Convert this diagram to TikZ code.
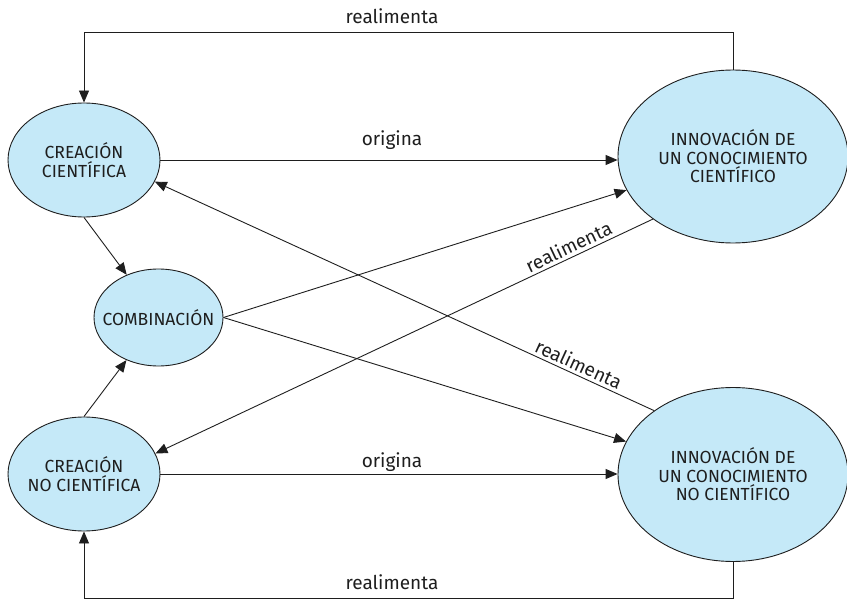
\documentclass[tikz,border=0pt]{standalone}
\usepackage{fontspec}
\setmainfont{Fira Sans}
\usetikzlibrary{arrows.meta,shapes.geometric}
\definecolor{fillblue}{RGB}{197,233,248}
\definecolor{ink}{RGB}{30,30,30}
\tikzset{
  bubble/.style={ellipse, draw=ink, line width=0.9pt, fill=fillblue, inner ysep=0pt, inner xsep=-12pt,
    align=center, text=ink, font=\fontsize{17.5}{18.5}\selectfont},
  conn/.style={draw=ink, line width=0.9pt},
  arr/.style={conn, -{Triangle[length=12pt,width=10pt]}},
  lbl/.style={text=ink, font=\fontsize{19}{21}\selectfont, inner sep=1pt},
}
\begin{document}
\begin{tikzpicture}[x=1pt,y=-1pt]
\useasboundingbox (0,0) rectangle (847,599);
\node[bubble, minimum width=152pt, minimum height=114pt] (cc) at (84,160) {CREACIÓN\\CIENTÍFICA};
\node[bubble, minimum width=129pt, minimum height=97pt] (comb) at (158.5,317.5) {COMBINACIÓN};
\node[bubble, minimum width=152pt, minimum height=114pt] (cnc) at (84,474) {CREACIÓN\\NO CIENTÍFICA};
\node[bubble, minimum width=230pt, minimum height=173pt] (ic) at (733,156.5) {INNOVACIÓN DE\\UN CONOCIMIENTO\\CIENTÍFICO};
\node[bubble, minimum width=230pt, minimum height=174pt] (inc) at (733,474.5) {INNOVACIÓN DE\\UN CONOCIMIENTO\\NO CIENTÍFICO};

% feedback loops
\draw[arr] (ic.north) -- ++(0,-37) -| (cc.north);
\draw[arr] (inc.south) -- ++(0,36) -| (cnc.south);
\node[lbl] (t1) at (392,16) {realimenta};
\node[lbl] (t2) at (392,582) {realimenta};

% origina
\draw[arr] (cc.east) -- (cc.east -| ic.west);
\draw[arr] (cnc.east) -- (cnc.east -| inc.west);
\node[lbl] (o1) at (392,140) {origina};
\node[lbl] (o2) at (392,462) {origina};

% creation to combination
\draw[arr] (cc.south) -- (comb);
\draw[arr] (cnc.north) -- (comb);

% combination to innovations
\draw[arr] (comb.east) -- (ic);
\draw[arr] (comb.east) -- (inc);

% diagonal feedbacks
\draw[arr] (ic.218) -- node[lbl, pos=0.16, sloped, above=2pt] {realimenta} (cnc.16);
\draw[arr] (inc.141.5) -- node[lbl, pos=0.16, sloped, above=2pt] {realimenta} (cc.343.5);
\end{tikzpicture}
\end{document}
